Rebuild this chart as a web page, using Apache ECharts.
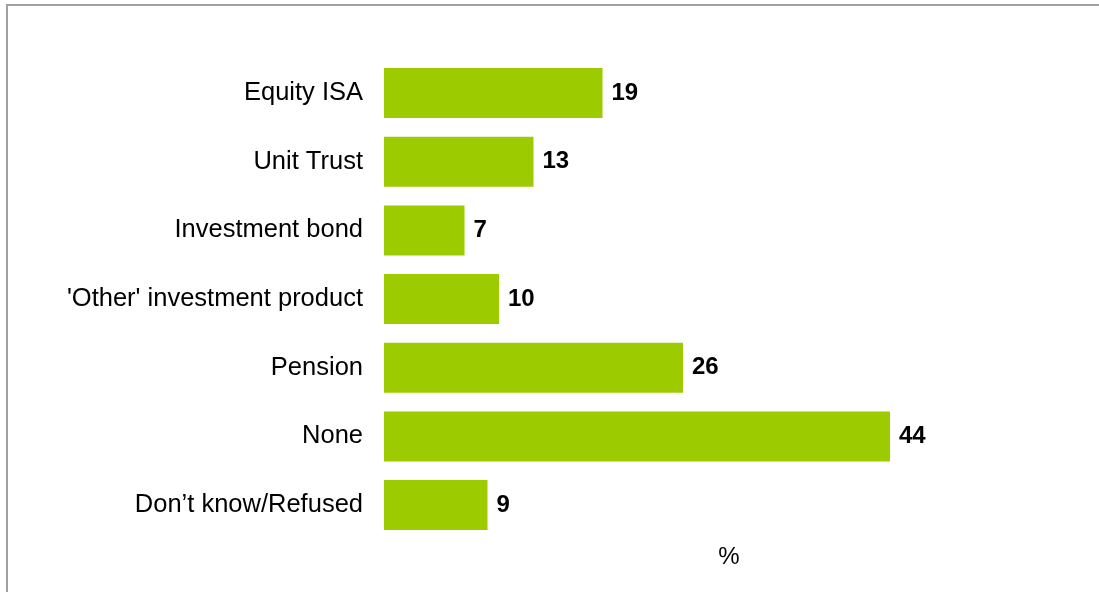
<!DOCTYPE html>
<html>
<head>
<meta charset="utf-8">
<style>
  html, body { margin: 0; padding: 0; background: #fff; }
  #chart { width: 1099px; height: 592px; }
</style>
<script src="https://cdn.jsdelivr.net/npm/echarts@6/dist/echarts.min.js"></script>
</head>
<body>
<div id="chart"></div>
<script>
// Products held (percent of respondents)
const categories = [
  'Equity ISA',
  'Unit Trust',
  'Investment bond',
  "'Other' investment product",
  'Pension',
  'None',
  'Don\u2019t know/Refused'
];
const values = [19, 13, 7, 10, 26, 44, 9];
const axisUnit = '%';

const FONT = '"Liberation Sans", Arial, sans-serif';
const chart = echarts.init(document.getElementById('chart'), null, { renderer: 'canvas' });

chart.setOption({
  animation: false,
  backgroundColor: '#ffffff',
  graphic: [
    // frame: top and left edges
    { type: 'rect', shape: { x: 6, y: 4, width: 1093, height: 2 }, style: { fill: '#a0a0a0' }, silent: true },
    { type: 'rect', shape: { x: 6, y: 4, width: 2, height: 588 }, style: { fill: '#a0a0a0' }, silent: true }
  ],
  grid: { left: 384, top: 58.7, width: 690, height: 480.7, containLabel: false },
  xAxis: {
    type: 'value',
    min: 0,
    max: 60,
    name: axisUnit,
    nameLocation: 'middle',
    nameGap: 6,
    nameTextStyle: { fontFamily: FONT, fontSize: 24, color: '#000', verticalAlign: 'top' },
    axisLine: { show: false },
    axisTick: { show: false },
    axisLabel: { show: false },
    splitLine: { show: false }
  },
  yAxis: {
    type: 'category',
    data: categories,
    inverse: true,
    axisLine: { show: false },
    axisTick: { show: false },
    axisLabel: { fontFamily: FONT, fontSize: 25.5, color: '#000', margin: 21, padding: [4, 0, 0, 0] },
    splitLine: { show: false }
  },
  series: [{
    type: 'bar',
    data: values,
    barWidth: 50,
    itemStyle: { color: '#9ccc00' },
    label: {
      show: true,
      position: 'right',
      distance: 9,
      fontFamily: FONT,
      fontSize: 24,
      fontWeight: 'bold',
      color: '#000',
      padding: [3, 0, 0, 0]
    }
  }]
});
</script>
</body>
</html>
